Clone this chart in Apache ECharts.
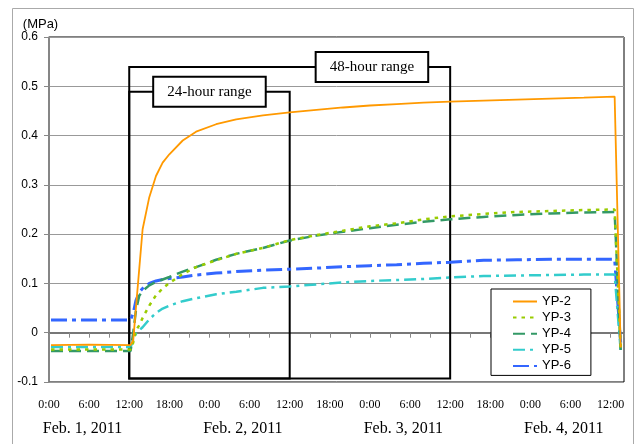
<!DOCTYPE html>
<html>
<head>
<meta charset="utf-8">
<script src="https://cdn.jsdelivr.net/npm/echarts@6/dist/echarts.min.js"></script>
<style>
html,body{margin:0;padding:0;background:#fff;}
#main{width:639px;height:444px;}
</style>
</head>
<body>
<div id="main"></div>
<script>
// hours from Feb. 1, 2011 0:00
const hours = [0.3, 6, 12.2, 12.6, 13, 13.5, 14, 15, 16, 17, 18, 20, 22, 25, 28, 32, 36, 40, 44, 48, 52, 56, 60, 65, 70, 75, 80, 84.6, 85.5]
const yp2 = [-0.025, -0.024, -0.025, -0.015, 0.05, 0.13, 0.21, 0.275, 0.318, 0.345, 0.362, 0.39, 0.408, 0.423, 0.433, 0.441, 0.447, 0.452, 0.457, 0.461, 0.464, 0.467, 0.469, 0.471, 0.473, 0.475, 0.477, 0.479, -0.03]
const yp3 = [-0.034, -0.034, -0.034, -0.02, 0.005, 0.015, 0.03, 0.055, 0.076, 0.09, 0.101, 0.119, 0.133, 0.147, 0.16, 0.172, 0.188, 0.198, 0.207, 0.216, 0.222, 0.23, 0.236, 0.241, 0.245, 0.247, 0.249, 0.25, -0.03]
const yp4 = [-0.037, -0.037, -0.037, 0.0, 0.045, 0.075, 0.085, 0.096, 0.103, 0.108, 0.113, 0.124, 0.133, 0.148, 0.16, 0.172, 0.187, 0.197, 0.205, 0.212, 0.219, 0.225, 0.23, 0.235, 0.239, 0.242, 0.244, 0.245, -0.035]
const yp5 = [-0.029, -0.029, -0.029, -0.015, -0.002, 0.005, 0.011, 0.027, 0.04, 0.049, 0.055, 0.064, 0.07, 0.078, 0.083, 0.091, 0.094, 0.098, 0.102, 0.105, 0.107, 0.109, 0.112, 0.115, 0.116, 0.117, 0.118, 0.118, -0.035]
const yp6 = [0.026, 0.026, 0.026, 0.04, 0.065, 0.082, 0.09, 0.1, 0.105, 0.108, 0.11, 0.113, 0.117, 0.121, 0.124, 0.127, 0.129, 0.131, 0.134, 0.136, 0.138, 0.141, 0.143, 0.147, 0.148, 0.149, 0.149, 0.149, -0.02]
const seriesNames = ['YP-2', 'YP-3', 'YP-4', 'YP-5', 'YP-6']

// range boxes (hours / MPa)
const rangeNames = ['24-hour range', '48-hour range']
const rangeStart = [12, 12]
const rangeEnd = [36, 60]
const rangeTop = [0.489, 0.539]
const rangeBottom = [-0.093, -0.093]
const rangeLabelHour = [24, 48.3]

const dateLabels = ['Feb. 1, 2011', 'Feb. 2, 2011', 'Feb. 3, 2011', 'Feb. 4, 2011']
const dateHours = [5, 29, 53, 77]

const colors = ['#FF9900', '#99CC00', '#339966', '#33CCCC', '#3366FF']
const dashes = ['solid', [3.5, 5], [12, 6], [12, 5, 3, 5], [16, 5, 4, 5]]
const widths = [1.8, 2.5, 2.5, 2.5, 3]
const values = [yp2, yp3, yp4, yp5, yp6]

const chart = echarts.init(document.getElementById('main'))

const lineSeries = seriesNames.map((name, i) => ({
  name: name,
  type: 'line',
  showSymbol: false,
  symbol: 'none',
  animation: false,
  z: 5 - i,
  data: hours.map((h, k) => [h, values[i][k]]),
  lineStyle: { color: colors[i], width: widths[i], type: dashes[i] },
  itemStyle: { color: colors[i] }
}))

const rangeSeries = {
  name: 'ranges',
  type: 'line',
  data: [],
  z: 10,
  animation: false,
  markArea: {
    silent: true,
    itemStyle: { color: 'rgba(0,0,0,0)', borderColor: '#000', borderWidth: 2 },
    data: rangeNames.map((n, i) => [
      { xAxis: rangeStart[i], yAxis: rangeBottom[i] },
      { xAxis: rangeEnd[i], yAxis: rangeTop[i] }
    ])
  },
  markPoint: {
    silent: true,
    symbol: 'rect',
    symbolSize: 1,
    itemStyle: { color: 'rgba(0,0,0,0)' },
    label: {
      show: true,
      position: 'inside',
      formatter: p => p.name,
      fontFamily: 'Liberation Serif',
      fontSize: 15,
      color: '#000',
      lineHeight: 18,
      backgroundColor: '#fff',
      borderColor: '#000',
      borderWidth: 2,
      padding: [5, 13]
    },
    data: rangeNames.map((n, i) => ({ name: n, coord: [rangeLabelHour[i], rangeTop[i]] }))
  }
}

const option = {
  backgroundColor: '#fff',
  animation: false,
  grid: { left: 49, right: 15, top: 37, bottom: 62, show: true, borderColor: '#000', borderWidth: 1 },
  legend: {
    data: seriesNames,
    orient: 'vertical',
    left: 491,
    top: 289,
    itemWidth: 24,
    itemHeight: 14,
    itemGap: 2.3,
    padding: [6, 20, 3, 21],
    itemGap: 3.1,
    itemStyle: { opacity: 0 },
    backgroundColor: '#fff',
    borderColor: '#000',
    borderWidth: 1,
    textStyle: { fontFamily: 'Liberation Sans', fontSize: 13, color: '#000' }
  },
  xAxis: {
    type: 'value',
    min: 0,
    max: 86,
    interval: 3,
    splitLine: { show: false },
    axisLine: { lineStyle: { color: '#777', width: 2 } },
    axisTick: { inside: false, length: 5, lineStyle: { color: '#888' } },
    axisLabel: {
      fontFamily: 'Liberation Serif',
      fontSize: 12,
      color: '#000',
      margin: 17,
      formatter: v => (v % 6 === 0 ? (v % 24) + ':00' : '')
    }
  },
  yAxis: {
    type: 'value',
    min: -0.1,
    max: 0.6,
    interval: 0.1,
    name: '(MPa)',
    nameLocation: 'end',
    nameGap: 5,
    nameTextStyle: { fontFamily: 'Liberation Sans', fontSize: 13, color: '#000', align: 'center', padding: [0, 0, 0, -17] },
    axisLine: { show: true, lineStyle: { color: '#888', width: 1.5 } },
    axisTick: { show: true, length: 5, lineStyle: { color: '#888' } },
    splitLine: { lineStyle: { color: '#999', width: 1 } },
    axisLabel: {
      fontFamily: 'Liberation Sans',
      fontSize: 12,
      color: '#000',
      margin: 11,
      formatter: v => (Math.abs(v) < 1e-9 ? '0' : v.toFixed(1))
    }
  },
  series: lineSeries.concat([rangeSeries])
}

chart.setOption(option)

// outer frame and date labels below the time axis
const graphics = [{
  type: 'rect',
  shape: { x: 12.5, y: 8.5, width: 621, height: 460 },
  style: { fill: 'none', stroke: '#aaa', lineWidth: 1 },
  silent: true
}]
dateLabels.forEach((t, i) => {
  const px = chart.convertToPixel({ xAxisIndex: 0 }, dateHours[i])
  graphics.push({
    type: 'text',
    x: px,
    y: 429,
    style: {
      text: t,
      fill: '#000',
      font: '16px "Liberation Serif"',
      textAlign: 'center',
      textVerticalAlign: 'middle'
    },
    silent: true
  })
})
chart.setOption({ graphic: graphics })
</script>
</body>
</html>
